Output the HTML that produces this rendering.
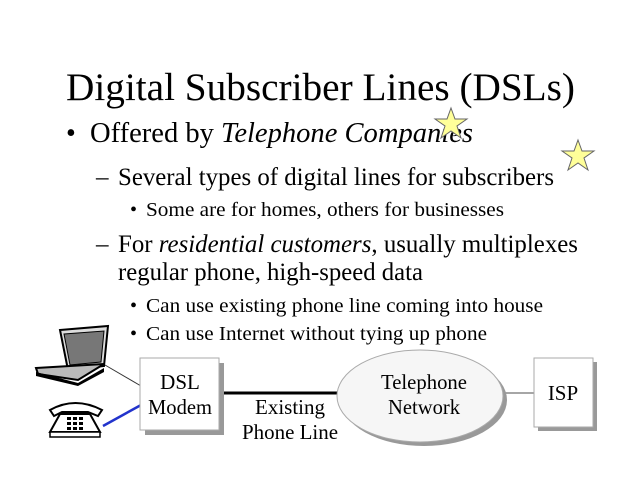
<!DOCTYPE html>
<html><head><style>body{margin:0;background:#fff}svg{display:block}</style></head><body>
<svg width="640" height="480" viewBox="0 0 640 480" xmlns="http://www.w3.org/2000/svg" font-family="Liberation Serif, serif">
<text x="66" y="100" font-size="39" textLength="509" lengthAdjust="spacingAndGlyphs">Digital Subscriber Lines (DSLs)</text>
<text x="66" y="142" font-size="28">•</text>
<text x="90" y="142" font-size="28" textLength="383" lengthAdjust="spacingAndGlyphs">Offered by <tspan font-style="italic">Telephone Companies</tspan></text>
<text x="96" y="185" font-size="25">–</text>
<text x="118" y="185" font-size="25" textLength="436" lengthAdjust="spacingAndGlyphs">Several types of digital lines for subscribers</text>
<text x="130" y="216" font-size="20">•</text>
<text x="146" y="216" font-size="20" textLength="358" lengthAdjust="spacingAndGlyphs">Some are for homes, others for businesses</text>
<text x="96" y="252" font-size="25">–</text>
<text x="118" y="252" font-size="25" textLength="460" lengthAdjust="spacingAndGlyphs">For <tspan font-style="italic">residential customers</tspan>, usually multiplexes</text>
<text x="118" y="280" font-size="25" textLength="305" lengthAdjust="spacingAndGlyphs">regular phone, high-speed data</text>
<text x="130" y="312" font-size="20">•</text>
<text x="146" y="312" font-size="20" textLength="397" lengthAdjust="spacingAndGlyphs">Can use existing phone line coming into house</text>
<text x="130" y="340" font-size="20">•</text>
<text x="146" y="340" font-size="20" textLength="341" lengthAdjust="spacingAndGlyphs">Can use Internet without tying up phone</text>
<polygon points="451,108 455,119 467,119 457,126 461,138 451,131 441,138 445,126 435,119 447,119" fill="#ffff99" stroke="#666" stroke-width="1"/>
<polygon points="578,140 582,151 594,151 584,158 588,170 578,163 568,170 572,158 562,151 574,151" fill="#ffff99" stroke="#666" stroke-width="1"/>
<line x1="105" y1="365" x2="141" y2="386" stroke="#333" stroke-width="1"/>
<line x1="103" y1="426" x2="141" y2="405" stroke="#2233cc" stroke-width="2.5"/>
<line x1="219" y1="393" x2="342" y2="393" stroke="#000" stroke-width="3"/>
<line x1="503" y1="393" x2="535" y2="393" stroke="#888" stroke-width="1.5"/>
<rect x="145" y="363" width="79" height="72" fill="#999"/>
<rect x="140" y="358" width="79" height="72" fill="#fff" stroke="#aaa"/>
<text x="180" y="389" font-size="21" text-anchor="middle">DSL</text>
<text x="180" y="414" font-size="21" text-anchor="middle" textLength="64" lengthAdjust="spacingAndGlyphs">Modem</text>
<text x="290" y="414" font-size="21" text-anchor="middle" textLength="70" lengthAdjust="spacingAndGlyphs">Existing</text>
<text x="290" y="439" font-size="21" text-anchor="middle" textLength="96" lengthAdjust="spacingAndGlyphs">Phone Line</text>
<ellipse cx="424" cy="400" rx="83" ry="46" fill="#999"/>
<ellipse cx="420" cy="396" rx="83" ry="46" fill="#f6f6f6" stroke="#aaa"/>
<text x="424" y="389" font-size="21" text-anchor="middle" textLength="86" lengthAdjust="spacingAndGlyphs">Telephone</text>
<text x="424" y="414" font-size="21" text-anchor="middle" textLength="72" lengthAdjust="spacingAndGlyphs">Network</text>
<rect x="538" y="362" width="59" height="69" fill="#999"/>
<rect x="534" y="358" width="59" height="69" fill="#fff" stroke="#aaa"/>
<text x="563" y="400" font-size="21" text-anchor="middle">ISP</text>
<polygon points="60,330 108,326 104,366 68,370" fill="#ddd" stroke="#000" stroke-width="2"/>
<polygon points="64,334 104,331 101,362 70,365" fill="#777" stroke="#000"/>
<polygon points="36,368 104,364 78,380 38,374" fill="#bbb" stroke="#000" stroke-width="2"/>
<polygon points="36,372 78,383 104,368 104,372 78,386 36,376" fill="#000"/>
<path d="M50,410 Q75,396 102,410 L98,416 L88,412 L62,412 L54,416 Z" fill="#fff" stroke="#000" stroke-width="2"/>
<path d="M60,414 L90,414 L100,432 L50,432 Z" fill="#fff" stroke="#000" stroke-width="2"/>
<rect x="50" y="432" width="50" height="5" fill="#fff" stroke="#000" stroke-width="1.5"/>
<g fill="#000"><rect x="67" y="417" width="4" height="3"/><rect x="73" y="417" width="4" height="3"/><rect x="79" y="417" width="4" height="3"/>
<rect x="67" y="422" width="4" height="3"/><rect x="73" y="422" width="4" height="3"/><rect x="79" y="422" width="4" height="3"/>
<rect x="67" y="427" width="4" height="3"/><rect x="73" y="427" width="4" height="3"/><rect x="79" y="427" width="4" height="3"/></g>
</svg>
</body></html>
